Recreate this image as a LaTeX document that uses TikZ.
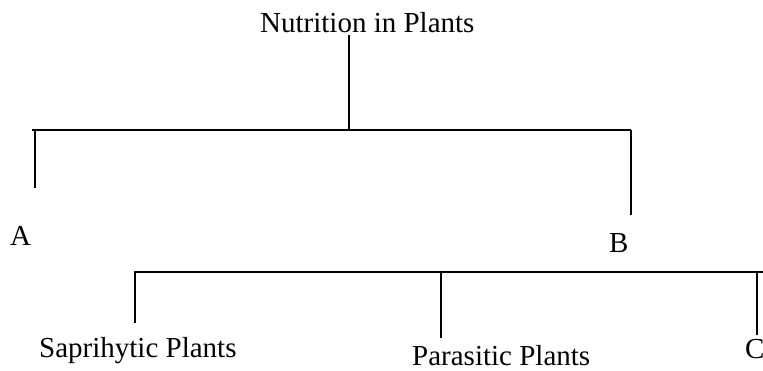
\documentclass[tikz,border=0pt]{standalone}
\usepackage{fontspec}
\setmainfont{Liberation Serif}
\tikzset{lbl/.style = {inner sep = 0, anchor = base west, font = \fontsize{29}{30}\selectfont}}
\tikzset{edge/.style = {line width = 1.2}}

\begin{document}
\begin{tikzpicture}[x=1pt, y=-1pt]
  \clip (0, 0) rectangle (763, 370);
  \node [lbl] (nutr) at (260, 32) {Nutrition in Plants};
  \node [lbl] (a) at (10, 245) {A};
  \node [lbl] (b) at (609, 252) {B};
  \node [lbl] (sap) at (39, 357) {Saprihytic Plants};
  \node [lbl] (para) at (412, 365) {Parasitic Plants};
  \node [lbl] (c) at (745, 358) {C};
  % first level
  \coordinate (nutr-foot) at (349, 35);
  \coordinate (split1) at (349, 130);
  \coordinate (bar1-w) at (32, 130);
  \coordinate (bar1-e) at (631, 130);
  \coordinate (a-top) at (35, 130);
  \coordinate (a-foot) at (35, 188);
  \coordinate (b-top) at (631, 130);
  \coordinate (b-foot) at (631, 215);
  \draw [edge] (nutr-foot) -- (split1);
  \draw [edge] (bar1-w) -- (bar1-e);
  \draw [edge] (a-top) -- (a-foot);
  \draw [edge] (b-top) -- (b-foot);
  % second level
  \coordinate (bar2-w) at (134, 272);
  \coordinate (bar2-e) at (763, 272);
  \coordinate (sap-top) at (135, 272);
  \coordinate (sap-foot) at (135, 323);
  \coordinate (para-top) at (441, 272);
  \coordinate (para-foot) at (441, 338);
  \coordinate (c-top) at (757, 272);
  \coordinate (c-foot) at (757, 335);
  \draw [edge] (bar2-w) -- (bar2-e);
  \foreach \n in {sap, para, c} {
    \draw [edge] (\n-top) -- (\n-foot);
  }
\end{tikzpicture}
\end{document}
